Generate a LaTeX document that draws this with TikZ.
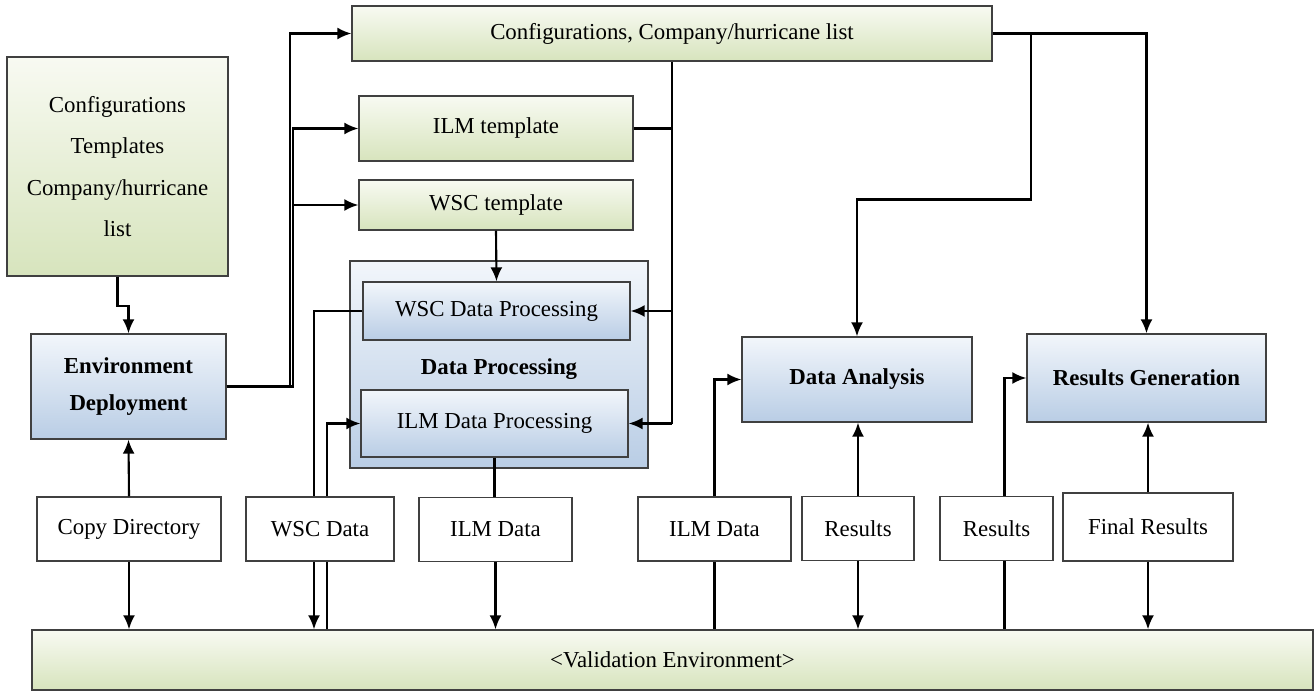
\documentclass[tikz,border=0pt]{standalone}
\usepackage{fontspec}
\setmainfont{Liberation Serif}
\usepackage[dvipsnames]{xcolor}
\usetikzlibrary{arrows.meta}

\definecolor{greenlo}{HTML}{D7E4BD}
\definecolor{greenhi}{HTML}{F8FAF2}
\definecolor{bluelo}{HTML}{B9CDE5}
\definecolor{bluehi}{HTML}{F2F6FB}
\definecolor{rim}{HTML}{404040}

\begin{document}
\begin{tikzpicture}[x=0.02cm,y=-0.02cm,-,>={Latex[length=2.8mm,width=2.4mm]},line width=1.2pt,
    font=\fontsize{13}{16}\selectfont,
    green node/.style={draw=rim,line width=0.8pt,top color=greenhi,bottom color=greenlo,inner sep=2pt,align=center},
    blue node/.style={draw=rim,line width=0.8pt,top color=bluehi,bottom color=bluelo,inner sep=2pt,align=center,font=\fontsize{13}{21}\selectfont\bfseries},
    data node/.style={draw=rim,line width=0.8pt,fill=white,minimum height=1.28cm,inner sep=2pt}]

    \useasboundingbox (0,0) rectangle (1315,692);

    % inputs
    \node[green node, minimum width=12.8cm, minimum height=1.1cm] (1) at (672,33.5) {Configurations, Company/hurricane list};
    \node[green node, minimum width=4.42cm, minimum height=4.38cm, font=\fontsize{13}{23.5}\selectfont] (2) at (117.5,166.5) {Configurations\\Templates\\Company/hurricane\\list};
    \node[green node, minimum width=5.48cm, minimum height=1.3cm] (3) at (496,128.5) {ILM template};
    \node[green node, minimum width=5.48cm, minimum height=1.0cm] (4) at (496,205) {WSC template};

    % processing stages
    \node[blue node, minimum width=5.96cm, minimum height=4.14cm, text height=0.47cm, text depth=0.07cm] (5) at (499,364.5) {Data Processing};
    \node[blue node, font=\fontsize{13}{16}\selectfont, minimum width=5.34cm, minimum height=1.16cm] (6) at (496.5,311) {WSC Data Processing};
    \node[blue node, font=\fontsize{13}{16}\selectfont, minimum width=5.34cm, minimum height=1.34cm] (7) at (494.5,423.5) {ILM Data Processing};
    \node[blue node, minimum width=3.9cm, minimum height=2.1cm] (8) at (128.5,386.5) {Environment\\Deployment};
    \node[blue node, minimum width=4.6cm, minimum height=1.7cm] (9) at (857,379.5) {Data Analysis};
    \node[blue node, minimum width=4.78cm, minimum height=1.76cm] (10) at (1146.5,378) {Results Generation};

    % data moved to and from the environment
    \node[data node, minimum width=3.68cm] (11) at (129,529) {Copy Directory};
    \node[data node, minimum width=2.96cm] (12) at (320,529) {WSC Data};
    \node[data node, minimum width=3.06cm] (13) at (495.5,529.5) {ILM Data};
    \node[data node, minimum width=3.06cm] (14) at (714.5,529) {ILM Data};
    \node[data node, minimum width=2.24cm] (15) at (858,528.5) {Results};
    \node[data node, minimum width=2.26cm] (16) at (996.5,528.5) {Results};
    \node[data node, minimum width=3.4cm, minimum height=1.36cm] (17) at (1148,527) {Final Results};

    \node[green node, minimum width=25.62cm, minimum height=1.2cm] (18) at (672.5,660) {<Validation Environment>};

    % deployment
    \draw[->] (2.south) -- ++(0,29) -| (8.north);
    \draw[->] (8.east) -- ++(63,0) |- (1.west);
    \draw[->] (8.east) -- ++(66,0) |- (3.west);
    \draw[->] (8.east) -- ++(66,0) |- (4.west);
    \draw[->] (11.north) -- (8.south);
    \draw[->] (11.south) -- (11.south |- 18.north);

    % templates and lists into processing
    \draw (1.south) -- (1.south |- 7.east);
    \draw (3.east) -- (1.south |- 3.east);
    \draw[->] (1.south |- 6.east) -- (6.east);
    \draw[->] (1.south |- 7.east) -- (7.east);
    \draw[->] (4.south) -- (6.north);

    % processing data flow
    \draw (6.west) -| ([xshift=-0.12cm]12.north);
    \draw[->] ([xshift=-0.12cm]12.south) -- ([xshift=-0.12cm]12.south |- 18.north);
    \draw ([xshift=0.14cm]12.south |- 18.north) -- ([xshift=0.14cm]12.south);
    \draw[->] ([xshift=0.14cm]12.north) |- (7.west);
    \draw (7.south) -- (7.south |- 13.north);
    \draw[->] (13.south) -- (13.south |- 18.north);

    % analysis
    \draw[->] (1.east) -- ++(38,0) -- ++(0,166) -| (9.north);
    \draw (14.south |- 18.north) -- (14.south);
    \draw[->] (14.north) |- (9.west);
    \draw[->] (15.north) -- (15.north |- 9.south);
    \draw[->] (15.south) -- (15.south |- 18.north);

    % results
    \draw[->] (1.east) -| (10.north);
    \draw ([xshift=0.16cm]16.south |- 18.north) -- ([xshift=0.16cm]16.south);
    \draw[->] ([xshift=0.16cm]16.north) |- (10.west);
    \draw[->] (17.north) -- (17.north |- 10.south);
    \draw[->] (17.south) -- (17.south |- 18.north);

    ;
\end{tikzpicture}
\end{document}
